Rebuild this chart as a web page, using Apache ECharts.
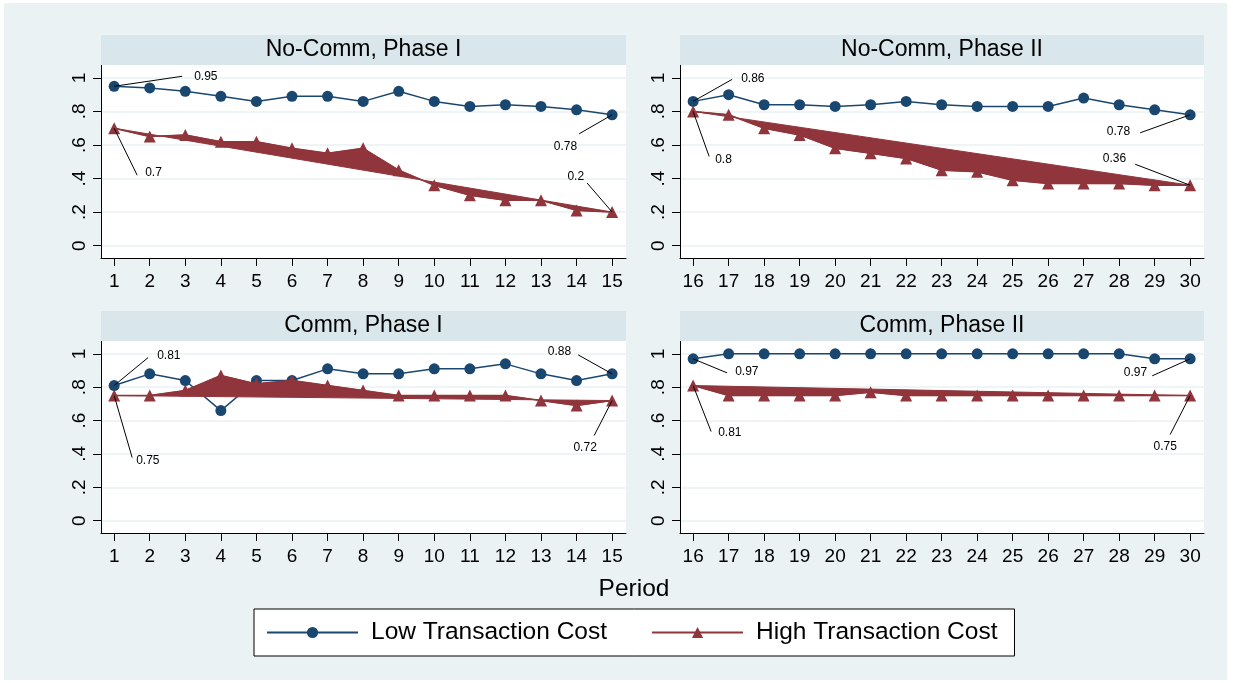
<!DOCTYPE html>
<html>
<head>
<meta charset="utf-8">
<title>Transaction cost by period</title>
<script src="https://cdn.jsdelivr.net/npm/echarts@6/dist/echarts.min.js"></script>
<style>
  html, body { margin: 0; padding: 0; background: #fff; }
  #chart { width: 1233px; height: 683px; }
</style>
</head>
<body>
<div id="chart"></div>
<script>
// Periods shown in each phase
const periodsPhaseI = [1, 2, 3, 4, 5, 6, 7, 8, 9, 10, 11, 12, 13, 14, 15];
const periodsPhaseII = [16, 17, 18, 19, 20, 21, 22, 23, 24, 25, 26, 27, 28, 29, 30];

// Y axis ticks and their labels
const yTicks = [0, 0.2, 0.4, 0.6, 0.8, 1];
const yTickLabels = ['0', '.2', '.4', '.6', '.8', '1'];

// Panel titles
const panelTitles = ['No-Comm, Phase I', 'No-Comm, Phase II', 'Comm, Phase I', 'Comm, Phase II'];
const seriesNames = ['Low Transaction Cost', 'High Transaction Cost'];

// No-Comm, Phase I
const noCommLowI  = [0.95, 0.94, 0.92, 0.89, 0.86, 0.89, 0.89, 0.86, 0.92, 0.86, 0.83, 0.84, 0.83, 0.81, 0.78];
const noCommHighI = [0.70, 0.65, 0.66, 0.62, 0.62, 0.58, 0.55, 0.58, 0.45, 0.36, 0.30, 0.27, 0.27, 0.21, 0.20];
// No-Comm, Phase II
const noCommLowII  = [0.86, 0.90, 0.84, 0.84, 0.83, 0.84, 0.86, 0.84, 0.83, 0.83, 0.83, 0.88, 0.84, 0.81, 0.78];
const noCommHighII = [0.80, 0.78, 0.70, 0.66, 0.58, 0.55, 0.52, 0.45, 0.44, 0.39, 0.37, 0.37, 0.37, 0.36, 0.36];
// Comm, Phase I
const commLowI  = [0.81, 0.88, 0.84, 0.66, 0.84, 0.84, 0.91, 0.88, 0.88, 0.91, 0.91, 0.94, 0.88, 0.84, 0.88];
const commHighI = [0.75, 0.75, 0.78, 0.87, 0.82, 0.84, 0.81, 0.78, 0.75, 0.75, 0.75, 0.75, 0.72, 0.69, 0.72];
// Comm, Phase II
const commLowII  = [0.97, 1.00, 1.00, 1.00, 1.00, 1.00, 1.00, 1.00, 1.00, 1.00, 1.00, 1.00, 1.00, 0.97, 0.97];
const commHighII = [0.81, 0.75, 0.75, 0.75, 0.75, 0.77, 0.75, 0.75, 0.75, 0.75, 0.75, 0.75, 0.75, 0.75, 0.75];

const FONT = '"Liberation Sans", Arial, Helvetica, sans-serif';
const NAVY = '#1a476f';
const MAROON = '#90353b';
const BG = '#eaf2f3';
const STRIP = '#d9e6eb';

// Pixel offsets of the value callouts: [lineEndDx, lineEndDy, textDx, textDy, align]
// order: low first, high first, low last, high last
const calloutLayouts = [
  [[68, -10, 80, -10, 'left'], [23, 47, 31, 44, 'left'], [-33, 19, -35, 32, 'right'], [-25, -29, -28, -35, 'right']],
  [[39, -22, 48, -23, 'left'], [16, 45, 22, 48, 'left'], [-50, 18, -60, 17, 'right'], [-55, -21, -64, -27, 'right']],
  [[34, -28, 43, -30, 'left'], [18, 62, 22, 65, 'left'], [-34, -19, -41, -22, 'right'], [-18, 35, -27, 47, 'center']],
  [[34, 14, 42, 13, 'left'], [18, 46, 25, 47, 'left'], [-38, 17, -43, 14, 'right'], [-20, 39, -25, 51, 'center']]
];

const panels = [
  { periods: periodsPhaseI,  low: noCommLowI,  high: noCommHighI,  grid: { left: 101, top: 65,  width: 525, height: 193 } },
  { periods: periodsPhaseII, low: noCommLowII, high: noCommHighII, grid: { left: 680, top: 65,  width: 524, height: 193 } },
  { periods: periodsPhaseI,  low: commLowI,    high: commHighI,    grid: { left: 101, top: 341, width: 525, height: 192 } },
  { periods: periodsPhaseII, low: commLowII,   high: commHighII,   grid: { left: 680, top: 341, width: 524, height: 192 } }
];
const stripHeight = 30;

const grids = [], xAxes = [], yAxes = [], series = [], graphics = [];

graphics.push({ type: 'rect', z: -5, shape: { x: 4, y: 3, width: 1223, height: 677 }, style: { fill: BG } });

panels.forEach((pn, i) => {
  const g = pn.grid;
  grids.push({ left: g.left, top: g.top, width: g.width, height: g.height, show: true,
               backgroundColor: '#fff', borderWidth: 0, containLabel: false });

  // title strip above the plot
  graphics.push({ type: 'rect', z: 1, shape: { x: g.left, y: g.top - stripHeight, width: g.width, height: stripHeight },
                  style: { fill: STRIP } });
  graphics.push({ type: 'text', z: 2, x: g.left + g.width / 2, y: g.top - stripHeight / 2,
                  style: { text: panelTitles[i], fill: '#000', fontSize: 23, fontFamily: FONT,
                           align: 'center', verticalAlign: 'middle' } });

  const first = pn.periods[0], last = pn.periods[pn.periods.length - 1];
  xAxes.push({
    type: 'value', gridIndex: i, min: first - 0.37, max: last + 0.39,
    axisLine: { show: true, onZero: false, lineStyle: { color: '#000', width: 1 } },
    axisTick: { show: true, length: 8, customValues: pn.periods, lineStyle: { color: '#000', width: 1 } },
    axisLabel: { customValues: pn.periods, fontSize: 19, fontFamily: FONT, color: '#000', margin: 14 },
    splitLine: { show: false }
  });
  yAxes.push({
    type: 'value', gridIndex: i, min: -0.074, max: 1.077,
    axisLine: { show: true, onZero: false, lineStyle: { color: '#000', width: 1 } },
    axisTick: { show: true, length: 8, customValues: yTicks, lineStyle: { color: '#000', width: 1 } },
    axisLabel: { customValues: yTicks, rotate: 90, fontSize: 19, fontFamily: FONT, color: '#000', margin: 12,
                 formatter: v => yTickLabels[Math.round(v * 5)] },
    splitLine: { show: true, lineStyle: { color: BG, width: 1.5 } }
  });

  const lowData = pn.periods.map((p, k) => [p, pn.low[k]]);
  const highData = pn.periods.map((p, k) => [p, pn.high[k]]);

  series.push({
    name: seriesNames[0], type: 'line', xAxisIndex: i, yAxisIndex: i, data: lowData, z: 3,
    symbol: 'circle', symbolSize: 11, itemStyle: { color: NAVY },
    lineStyle: { color: NAVY, width: 1.5 }, silent: true
  });

  // filled band between the high-cost path and the chord joining its end points
  series.push({
    type: 'custom', xAxisIndex: i, yAxisIndex: i, z: 4, silent: true, data: [[first, pn.high[0]]],
    renderItem: (params, api) => {
      const pts = highData.map(d => api.coord(d));
      return { type: 'polygon', shape: { points: pts },
               style: { fill: MAROON, stroke: MAROON, lineWidth: 1 } };
    }
  });

  series.push({
    name: seriesNames[1], type: 'line', xAxisIndex: i, yAxisIndex: i, data: highData, z: 5,
    symbol: 'triangle', symbolSize: 12, itemStyle: { color: MAROON },
    lineStyle: { color: MAROON, width: 1.5 }, silent: true
  });

  // value callouts at the first and last periods
  const n = pn.periods.length - 1;
  const calloutData = [[first, pn.low[0]], [first, pn.high[0]], [last, pn.low[n]], [last, pn.high[n]]];
  const lay = calloutLayouts[i];
  series.push({
    type: 'custom', xAxisIndex: i, yAxisIndex: i, z: 6, silent: true, data: calloutData,
    renderItem: (params, api) => {
      const v = api.value(1);
      const pt = api.coord([api.value(0), v]);
      const L = lay[params.dataIndex];
      return { type: 'group', children: [
        { type: 'line', shape: { x1: pt[0], y1: pt[1], x2: pt[0] + L[0], y2: pt[1] + L[1] },
          style: { stroke: '#000', lineWidth: 1 } },
        { type: 'text', x: pt[0] + L[2], y: pt[1] + L[3],
          style: { text: String(v), fill: '#000', fontSize: 12, fontFamily: FONT,
                   align: L[4], verticalAlign: 'middle', textAlign: L[4], textVerticalAlign: 'middle' } }
      ] };
    }
  });
});

graphics.push({ type: 'text', z: 2, x: 634, y: 589,
                style: { text: 'Period', fill: '#000', fontSize: 24.5, fontFamily: FONT,
                         align: 'center', verticalAlign: 'middle' } });

const chart = echarts.init(document.getElementById('chart'), null, { renderer: 'canvas' });
chart.setOption({
  backgroundColor: '#fff',
  animation: false,
  graphic: graphics,
  grid: grids,
  xAxis: xAxes,
  yAxis: yAxes,
  legend: {
    data: seriesNames, left: 254, top: 609, orient: 'horizontal',
    padding: [11, 17, 11, 12], itemGap: 44, itemWidth: 91, itemHeight: 14,
    backgroundColor: '#fff', borderColor: '#000', borderWidth: 1, borderRadius: 0,
    textStyle: { fontSize: 24.5, fontFamily: FONT, color: '#000', padding: [0, 0, 0, 8] },
    selectedMode: false
  },
  series: series
});
</script>
</body>
</html>
